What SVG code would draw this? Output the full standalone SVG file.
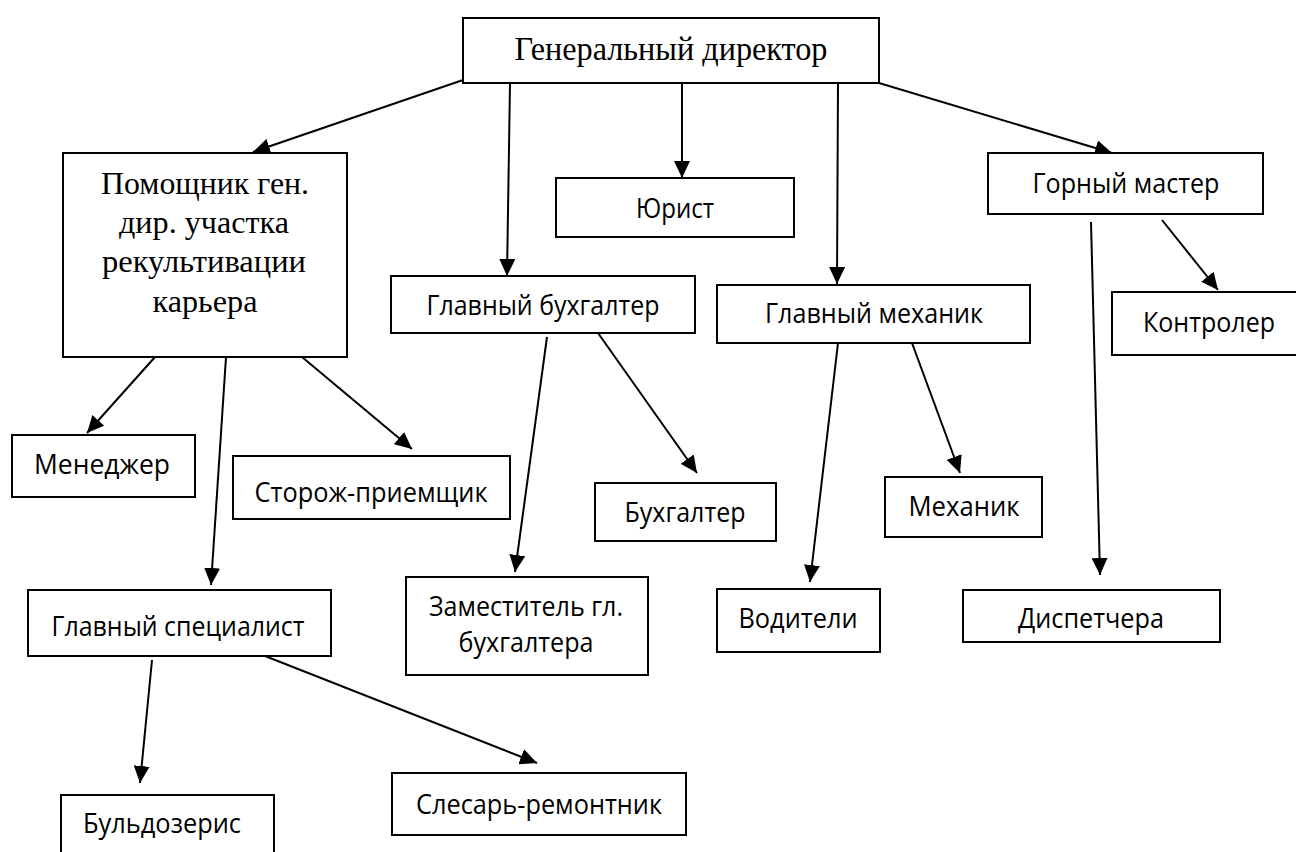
<svg xmlns="http://www.w3.org/2000/svg" width="1296" height="852" viewBox="0 0 1296 852">
<style>
rect.box{fill:#fff;stroke:#000;stroke-width:2}
text.s{font-family:"Open Sans","Liberation Sans",sans-serif;font-size:27px;fill:#000;text-anchor:middle}
text.t{font-family:"Liberation Serif","Times New Roman",serif;fill:#000;text-anchor:middle}
#connectors line{stroke:#000;stroke-width:2;fill:none;marker-end:url(#ah)}
</style>
<defs>
<marker id="ah" markerUnits="userSpaceOnUse" markerWidth="18" markerHeight="16" refX="17" refY="8" orient="auto">
<path d="M0,0 L17,8 L0,16 z" fill="#000"/>
</marker>
</defs>
<rect width="1296" height="852" fill="#fff"/>
<g id="connectors">
<line x1="463" y1="80" x2="253" y2="152"/>
<line x1="510" y1="83" x2="507" y2="276"/>
<line x1="682" y1="83" x2="682" y2="178"/>
<line x1="838" y1="83" x2="837" y2="284"/>
<line x1="879" y1="83" x2="1112" y2="153"/>
<line x1="155" y1="357" x2="87" y2="433"/>
<line x1="226" y1="357" x2="211" y2="585"/>
<line x1="302" y1="357" x2="412" y2="449"/>
<line x1="547" y1="337" x2="515" y2="572"/>
<line x1="598" y1="333" x2="697" y2="473"/>
<line x1="838" y1="343" x2="810" y2="582"/>
<line x1="912" y1="343" x2="960" y2="473"/>
<line x1="1162" y1="220" x2="1218" y2="290"/>
<line x1="1091" y1="222" x2="1100" y2="575"/>
<line x1="152" y1="660" x2="140" y2="783"/>
<line x1="265" y1="656" x2="537" y2="763"/>
</g>
<g id="n-gendir"><rect class="box" x="463" y="18" width="416" height="65"/><text class="t" x="671" y="60" font-size="33" textLength="313" lengthAdjust="spacingAndGlyphs">Генеральный директор</text></g>
<g id="n-pomoshnik"><rect class="box" x="63" y="153" width="284" height="204"/>
<text class="t" x="205" y="194" font-size="31" textLength="208" lengthAdjust="spacingAndGlyphs">Помощник ген.</text>
<text class="t" x="204" y="233" font-size="31" textLength="170" lengthAdjust="spacingAndGlyphs">дир. участка</text>
<text class="t" x="204" y="272" font-size="31" textLength="204" lengthAdjust="spacingAndGlyphs">рекультивации</text>
<text class="t" x="205" y="312" font-size="31" textLength="105" lengthAdjust="spacingAndGlyphs">карьера</text></g>
<g id="n-yurist"><rect class="box" x="556" y="178" width="238" height="59"/><text class="s" x="675" y="218" textLength="78" lengthAdjust="spacingAndGlyphs">Юрист</text></g>
<g id="n-glbuh"><rect class="box" x="391" y="276" width="304" height="57"/><text class="s" x="543" y="315" textLength="233" lengthAdjust="spacingAndGlyphs">Главный бухгалтер</text></g>
<g id="n-glmeh"><rect class="box" x="717" y="285" width="313" height="58"/><text class="s" x="874" y="323" textLength="218" lengthAdjust="spacingAndGlyphs">Главный механик</text></g>
<g id="n-gornyi"><rect class="box" x="988" y="153" width="275" height="61"/><text class="s" x="1126" y="193" textLength="187" lengthAdjust="spacingAndGlyphs">Горный мастер</text></g>
<g id="n-kontroler"><rect class="box" x="1112" y="292" width="190" height="63"/><text class="s" x="1209" y="332" textLength="132" lengthAdjust="spacingAndGlyphs">Контролер</text></g>
<g id="n-menedzher"><rect class="box" x="12" y="435" width="183" height="62"/><text class="s" x="102" y="474" textLength="136" lengthAdjust="spacingAndGlyphs">Менеджер</text></g>
<g id="n-storozh"><rect class="box" x="233" y="456" width="277" height="63"/><text class="s" x="371" y="502" textLength="233" lengthAdjust="spacingAndGlyphs">Сторож-приемщик</text></g>
<g id="n-buh"><rect class="box" x="595" y="483" width="181" height="58"/><text class="s" x="685" y="522" textLength="121" lengthAdjust="spacingAndGlyphs">Бухгалтер</text></g>
<g id="n-meh"><rect class="box" x="885" y="477" width="157" height="60"/><text class="s" x="964" y="516" textLength="111" lengthAdjust="spacingAndGlyphs">Механик</text></g>
<g id="n-glspec"><rect class="box" x="28" y="590" width="303" height="66"/><text class="s" x="178" y="636" textLength="253" lengthAdjust="spacingAndGlyphs">Главный специалист</text></g>
<g id="n-zam"><rect class="box" x="406" y="577" width="242" height="98"/>
<text class="s" x="526" y="616" textLength="194" lengthAdjust="spacingAndGlyphs">Заместитель гл.</text>
<text class="s" x="526" y="652" textLength="135" lengthAdjust="spacingAndGlyphs">бухгалтера</text></g>
<g id="n-voditeli"><rect class="box" x="717" y="589" width="163" height="63"/><text class="s" x="798" y="628" textLength="119" lengthAdjust="spacingAndGlyphs">Водители</text></g>
<g id="n-dispetchera"><rect class="box" x="963" y="590" width="257" height="52"/><text class="s" x="1091" y="628" textLength="146" lengthAdjust="spacingAndGlyphs">Диспетчера</text></g>
<g id="n-buldozer"><rect class="box" x="61" y="795" width="213" height="80"/><text class="s" x="162" y="833" textLength="158" lengthAdjust="spacingAndGlyphs">Бульдозерис</text></g>
<g id="n-slesar"><rect class="box" x="392" y="773" width="294" height="62"/><text class="s" x="539" y="814" textLength="246" lengthAdjust="spacingAndGlyphs">Слесарь-ремонтник</text></g>
</svg>
